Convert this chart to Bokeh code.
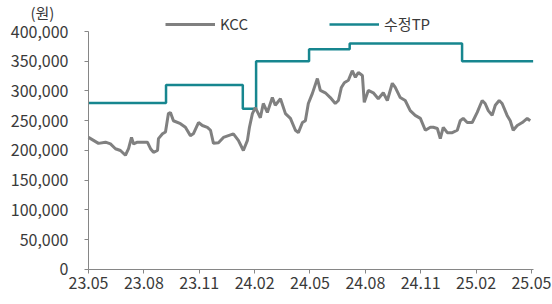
from bokeh.plotting import figure
from bokeh.models import (FixedTicker, NumeralTickFormatter, Legend, LegendItem, Range1d, Label)
from bokeh.embed import file_html
from bokeh.resources import INLINE

# month offset from 2023.05
kcc_m = [0, 0.27, 0.54, 0.92, 1.19, 1.46, 1.73, 2.00, 2.17, 2.33, 2.44, 2.65, 2.82, 3.19, 3.36, 3.52,
         3.74, 3.79, 4.01, 4.17, 4.33, 4.44, 4.60, 4.98, 5.25, 5.52, 5.68, 5.96, 6.17, 6.44, 6.61, 6.77,
         7.04, 7.31, 7.58, 7.85, 8.12, 8.39, 8.61, 8.72, 8.88, 9.04, 9.20, 9.31, 9.47, 9.69, 9.96, 10.12,
         10.40, 10.67, 10.94, 11.21, 11.37, 11.59, 11.75, 11.91, 12.13, 12.40, 12.56, 12.83, 13.10, 13.37,
         13.54, 13.70, 13.86, 14.08, 14.29, 14.46, 14.62, 14.84, 14.94, 15.16, 15.43, 15.70, 15.97, 16.19,
         16.46, 16.62, 16.89, 17.16, 17.43, 17.70, 17.98, 18.25, 18.41, 18.52, 18.68, 18.90, 19.06, 19.22,
         19.44, 19.71, 19.98, 20.14, 20.30, 20.52, 20.79, 21.06, 21.22, 21.33, 21.49, 21.66, 21.87, 22.04,
         22.25, 22.41, 22.68, 22.85, 23.01, 23.23, 23.50, 23.77, 23.93]
kcc_v = [222, 217, 212, 214, 211, 203, 200, 192, 203, 222, 211, 214, 214, 214, 203, 197,
         200, 220, 228, 231, 262, 264, 250, 245, 239, 225, 228, 247, 242, 239, 234, 212,
         213, 222, 225, 228, 217, 200, 217, 239, 262, 272, 262, 255, 279, 264, 289, 276,
         287, 262, 254, 234, 230, 247, 250, 279, 296, 321, 301, 297, 289, 279,
         284, 306, 314, 318, 334, 323, 331, 326, 281, 301, 297, 287, 297, 284,
         313, 306, 289, 284, 267, 259, 254, 234, 237, 239, 239, 237, 220, 239,
         230, 230, 234, 250, 254, 247, 247, 264, 276, 284, 279, 267, 259, 276,
         284, 279, 259, 250, 234, 242, 247, 254, 250]
kcc_v = [v * 1000 for v in kcc_v]

# target price steps: change points (month offset) and levels
tp_m = [0, 4.2, 8.36, 9.08, 11.95, 14.15, 20.24, 24.09]
tp_v = [280000, 310000, 270000, 350000, 370000, 380000, 350000, 350000]

tick_months = [0, 3, 6, 9, 12, 15, 18, 21, 24]
tick_labels = ["23.05", "23.08", "23.11", "24.02", "24.05", "24.08", "24.11", "25.02", "25.05"]
y_ticks = [0, 50000, 100000, 150000, 200000, 250000, 300000, 350000, 400000]

FONT = "Noto Sans CJK KR"
TXT = "#3a3a3a"
AX = "#868686"

p = figure(width=552, height=304, output_backend="svg", toolbar_location=None,
           x_range=Range1d(-4.768, 25.139), y_range=Range1d(-58824, 452101),
           min_border_left=0, min_border_right=0, min_border_top=0, min_border_bottom=0)
p.outline_line_color = None
p.xgrid.visible = False
p.ygrid.visible = False

tp_line = p.step(tp_m, tp_v, mode="after", line_color="#17868f", line_width=2.5)
kcc_line = p.line(kcc_m, kcc_v, line_color="#808080", line_width=3)

p.xaxis.ticker = FixedTicker(ticks=tick_months)
p.xaxis.major_label_overrides = {m: l for m, l in zip(tick_months, tick_labels)}
p.xaxis.bounds = (0, 24.1)
p.xaxis.fixed_location = 0
p.yaxis.ticker = FixedTicker(ticks=y_ticks)
p.yaxis.formatter = NumeralTickFormatter(format="0,0")
p.yaxis.bounds = (0, 400000)
p.yaxis.fixed_location = 0
for ax in (p.xaxis, p.yaxis):
    ax.axis_line_color = AX
    ax.major_tick_line_color = AX
    ax.minor_tick_line_color = None
    ax.major_tick_in = 0
    ax.major_tick_out = 4
    ax.major_label_text_font = FONT
    ax.major_label_text_font_size = "16px"
    ax.major_label_text_color = TXT
p.yaxis.major_label_standoff = 16
p.xaxis.major_label_standoff = 4

legend = Legend(items=[LegendItem(label="KCC", renderers=[kcc_line]),
                       LegendItem(label="수정TP", renderers=[tp_line])],
                orientation="horizontal", location=(165, 270),
                glyph_width=50, glyph_height=16, label_standoff=5, spacing=81,
                padding=0, margin=0, border_line_color=None, background_fill_alpha=0,
                label_text_font=FONT, label_text_font_size="15px", label_text_color=TXT)
p.add_layout(legend, "center")

unit = Label(x=30, y=282, x_units="screen", y_units="screen", text="(원)",
             text_font=FONT, text_font_size="15px", text_color=TXT)
p.add_layout(unit)

open("out.html", "w").write(file_html(p, INLINE))
